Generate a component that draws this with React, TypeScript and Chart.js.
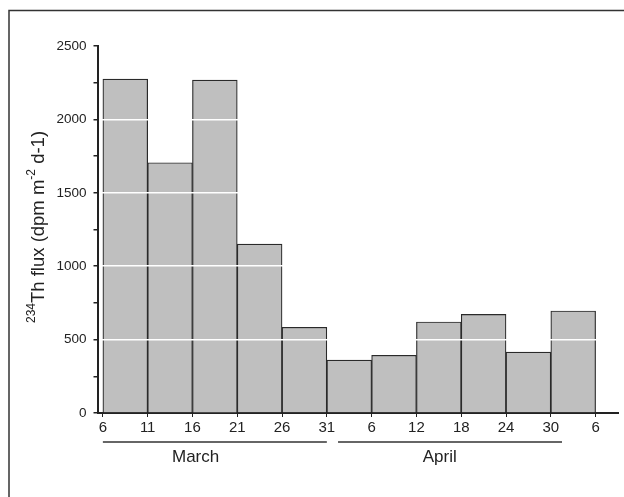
import { useEffect, useRef } from 'react';
import { Chart, registerables } from 'chart.js';

Chart.register(...registerables);

// Bin edge labels (day of month) along the x axis
const tickLabels = ['6', '11', '16', '21', '26', '31', '6', '12', '18', '24', '30', '6'];
// 234Th flux for each sampling interval (dpm m-2 d-1)
const fluxValues = [2275, 1705, 2268, 1151, 584, 361, 393, 620, 672, 415, 695];
// Months, the bin edges each one spans, and where its name sits (in bin-edge units)
const months = ['March', 'April'];
const monthStartEdge = [0, 5.25];
const monthEndEdge = [5, 10.25];
const monthLabelAt = [2.07, 7.52];
// Y axis range and step
const yMax = 2500;
const yLabelStep = 500;
const yMinorStep = 250;

const FONT = '"Liberation Sans", Arial, Helvetica, sans-serif';
const INK = '#222';

const decorPlugin = {
  id: 'decor',
  afterDraw(chart: any) {
    const { ctx } = chart;
    const xs = chart.scales.x;

    // page frame
    ctx.save();
    ctx.strokeStyle = '#333';
    ctx.lineWidth = 1.5;
    ctx.beginPath();
    ctx.moveTo(9, 497);
    ctx.lineTo(9, 10.5);
    ctx.lineTo(624, 10.5);
    ctx.stroke();
    ctx.restore();

    // month brackets under the axis
    ctx.save();
    ctx.strokeStyle = '#333';
    ctx.lineWidth = 1.3;
    ctx.fillStyle = INK;
    ctx.font = `17px ${FONT}`;
    ctx.textAlign = 'center';
    ctx.textBaseline = 'middle';
    months.forEach((m, i) => {
      const x0 = xs.getPixelForValue(monthStartEdge[i]);
      const x1 = xs.getPixelForValue(monthEndEdge[i]);
      ctx.beginPath();
      ctx.moveTo(x0, 442);
      ctx.lineTo(x1, 442);
      ctx.stroke();
      ctx.fillText(m, xs.getPixelForValue(monthLabelAt[i]), 457);
    });
    ctx.restore();

    // rotated y-axis title with superscripts
    const parts: [string, boolean][] = [
      ['234', true],
      ['Th flux (dpm m', false],
      ['-2', true],
      [' d-1)', false],
    ];
    const big = `18.5px ${FONT}`;
    const small = `12px ${FONT}`;
    ctx.save();
    ctx.translate(39, 227);
    ctx.rotate(-Math.PI / 2);
    ctx.fillStyle = INK;
    ctx.textBaseline = 'middle';
    ctx.textAlign = 'left';
    let total = 0;
    parts.forEach(([t, sup]) => {
      ctx.font = sup ? small : big;
      total += ctx.measureText(t).width;
    });
    let x = -total / 2;
    parts.forEach(([t, sup]) => {
      ctx.font = sup ? small : big;
      ctx.fillText(t, x, sup ? -7 : 0);
      x += ctx.measureText(t).width;
    });
    ctx.restore();
  },
};

export default function App() {
  const ref = useRef<HTMLCanvasElement>(null);

  useEffect(() => {
    const chart = new Chart(ref.current as HTMLCanvasElement, {
      type: 'bar',
      data: {
        datasets: [
          {
            data: fluxValues.map((v, i) => ({ x: i + 0.5, y: v })),
            backgroundColor: '#bfbfbf',
            borderColor: '#2a2a2a',
            borderWidth: 1.2,
            barPercentage: 1,
            categoryPercentage: 1,
          },
        ],
      },
      options: {
        animation: false,
        responsive: false,
        layout: { padding: { top: 46, right: 6, left: 0, bottom: 0 } },
        plugins: { legend: { display: false }, tooltip: { enabled: false } },
        scales: {
          x: {
            type: 'linear',
            offset: false,
            min: -0.12,
            max: 11.5,
            afterBuildTicks: (s: any) => {
              s.ticks = tickLabels.map((_, i) => ({ value: i }));
            },
            afterFit: (s: any) => {
              s.height = 84;
            },
            ticks: {
              callback: (_v: any, i: number) => tickLabels[i],
              font: { family: FONT, size: 15 },
              color: INK,
              padding: 2,
              maxRotation: 0,
              autoSkip: false,
            },
            grid: { offset: false, drawOnChartArea: false, drawTicks: true, tickLength: 4, tickColor: INK },
            border: { color: INK, width: 2 },
          },
          y: {
            min: 0,
            max: yMax,
            afterFit: (s: any) => {
              s.width = 97.5;
            },
            ticks: {
              stepSize: yMinorStep,
              autoSkip: false,
              callback: (v: any) => (Number(v) % yLabelStep === 0 ? String(v) : ''),
              font: { family: FONT, size: 13.5 },
              color: INK,
              padding: 7,
            },
            grid: {
              z: 1,
              lineWidth: 1.5,
              color: (c: any) => {
                const v = c.tick ? c.tick.value : 0;
                return v > 0 && v < yMax && v % yLabelStep === 0 ? '#ffffff' : 'rgba(0,0,0,0)';
              },
              tickColor: INK,
              tickLength: 4,
            },
            border: { color: INK, width: 2, z: 1 },
          },
        },
      },
      plugins: [decorPlugin],
    } as any);
    return () => chart.destroy();
  }, []);

  return (
    <div style={{ position: 'absolute', left: 0, top: 0, width: 624, height: 497, background: '#fff' }}>
      <canvas ref={ref} width={624} height={497} style={{ display: 'block' }} />
    </div>
  );
}
